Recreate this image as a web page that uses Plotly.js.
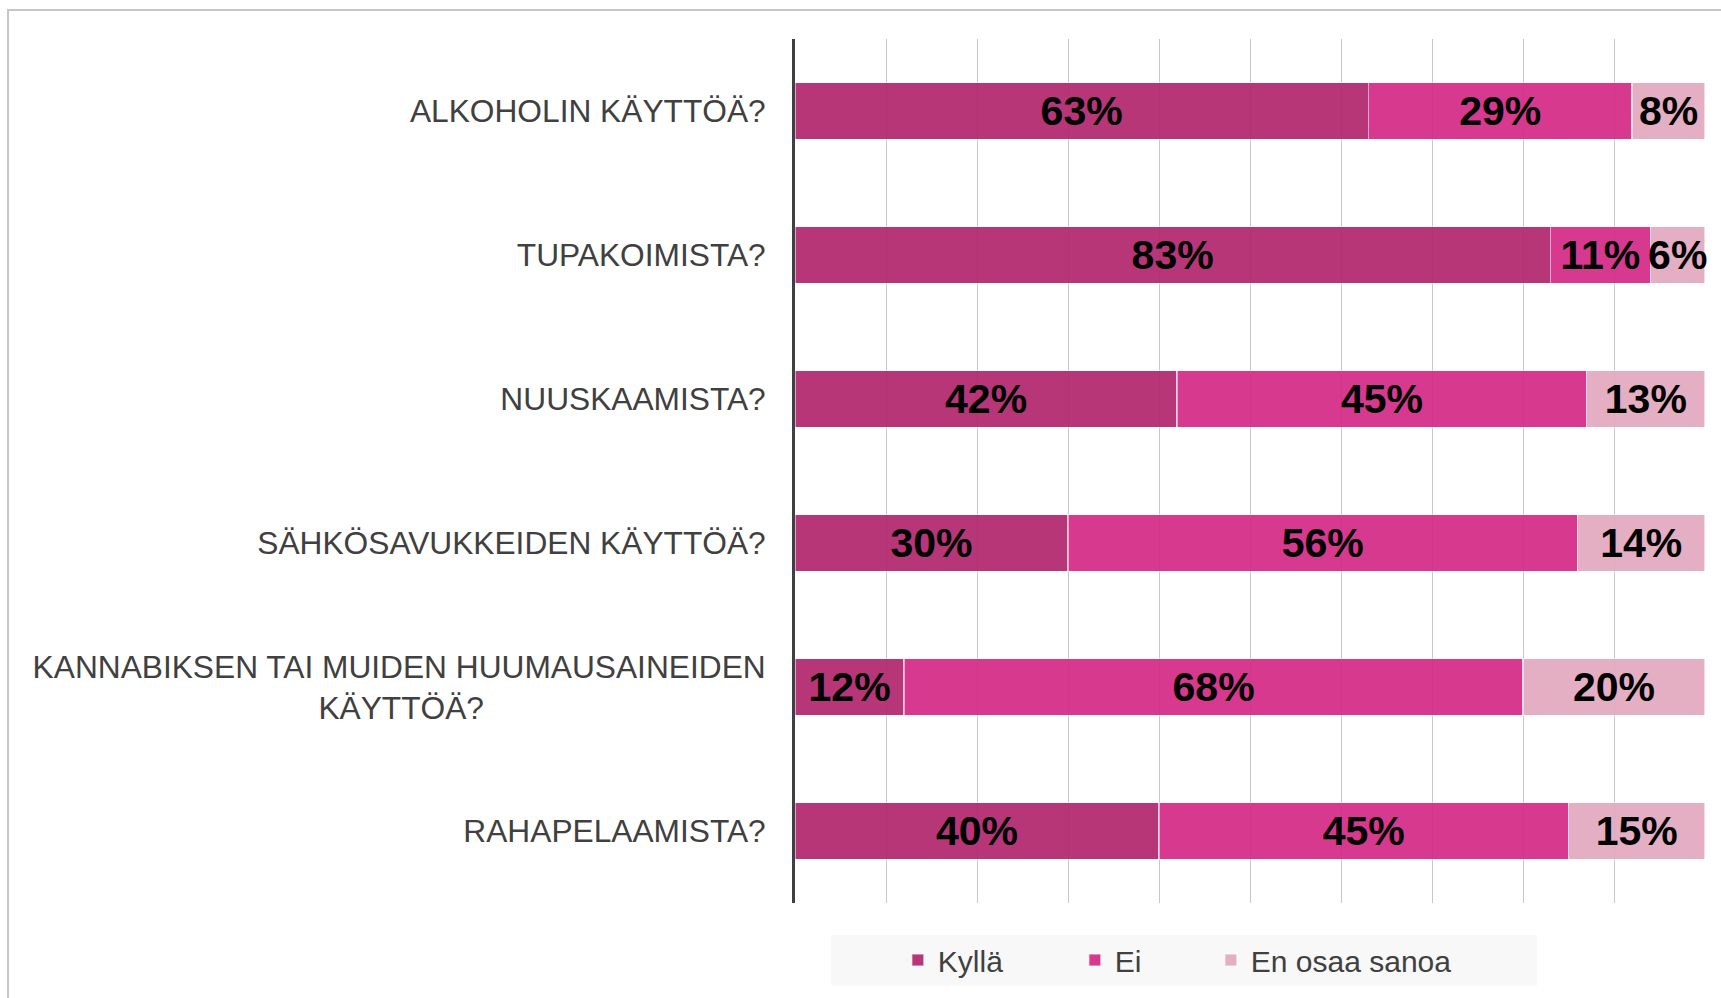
<!DOCTYPE html>
<html>
<head>
<meta charset="utf-8">
<script src="https://cdn.plot.ly/plotly-3.0.1.min.js"></script>
<style>html,body{margin:0;padding:0;background:#fff;}#chart{width:1721px;height:998px;}</style>
</head>
<body>
<div id="chart"></div>
<script>
var NB = '\u00A0';
var categories = [
  'ALKOHOLIN KÄYTTÖÄ?',
  'TUPAKOIMISTA?',
  'NUUSKAAMISTA?',
  'SÄHKÖSAVUKKEIDEN KÄYTTÖÄ?',
  'KANNABIKSEN TAI MUIDEN HUUMAUSAINEIDEN<br>KÄYTTÖÄ?' + NB.repeat(32),
  'RAHAPELAAMISTA?'
];
var seriesNames = ['Kyllä', 'Ei', 'En osaa sanoa'];
var kylla = [63, 83, 42, 30, 12, 40];
var ei = [29, 11, 45, 56, 68, 45];
var enOsaa = [8, 6, 13, 14, 20, 15];
var colors = ['rgba(176,39,110,0.93)', 'rgba(211,42,132,0.93)', 'rgba(226,168,190,0.93)'];
var legendWidths = [132, 91, 200];

var values = [kylla, ei, enOsaa];
var traces = values.map(function (v, i) {
  return {
    type: 'bar',
    orientation: 'h',
    name: seriesNames[i],
    x: v,
    y: categories,
    text: v.map(function (d) { return d + '%'; }),
    textposition: 'inside',
    insidetextanchor: 'middle',
    textangle: 0,
    constraintext: 'none',
    cliponaxis: false,
    textfont: { family: 'Liberation Sans, Arial, sans-serif', size: 41, color: '#000000', weight: 'bold' },
    marker: { color: colors[i], line: { color: 'rgba(255,255,255,0.55)', width: 1.5 } },
    legendwidth: legendWidths[i],
    hoverinfo: 'skip'
  };
});

var layout = {
  width: 1721,
  height: 998,
  margin: { l: 795, r: 16, t: 39, b: 95, pad: 0 },
  paper_bgcolor: '#ffffff',
  plot_bgcolor: '#ffffff',
  barmode: 'stack',
  bargap: 0.605,
  font: { family: 'Liberation Sans, Arial, sans-serif', color: '#404040' },
  xaxis: {
    range: [0, 100],
    dtick: 10,
    tick0: 0,
    showgrid: true,
    gridcolor: '#c8c8c8',
    gridwidth: 1,
    zeroline: false,
    showticklabels: false,
    showline: false,
    fixedrange: true
  },
  yaxis: {
    autorange: 'reversed',
    showline: true,
    linecolor: '#404040',
    linewidth: 3,
    showgrid: false,
    zeroline: false,
    ticks: '',
    ticklabelstandoff: 20,
    tickfont: { family: 'Liberation Sans, Arial, sans-serif', size: 31.7, color: '#404040' },
    fixedrange: true
  },
  showlegend: true,
  legend: {
    orientation: 'h',
    x: 0.113,
    xanchor: 'left',
    y: -0.066,
    yanchor: 'middle',
    bgcolor: 'rgba(0,0,0,0)',
    font: { family: 'Liberation Sans, Arial, sans-serif', size: 30, color: '#404040' },
    traceorder: 'normal'
  },
  shapes: [
    { type: 'rect', xref: 'paper', yref: 'paper', x0: -0.8648, x1: 1.1, y0: 1.0335, y1: -0.15,
      line: { color: '#c6c6c6', width: 2 }, fillcolor: 'rgba(0,0,0,0)', layer: 'below' },
    { type: 'rect', xref: 'paper', yref: 'paper', x0: 0.0396, x1: 0.8154, y0: -0.037, y1: -0.0956,
      line: { width: 0 }, fillcolor: '#f8f8f8', layer: 'below' }
  ]
};

Plotly.newPlot('chart', traces, layout, { displayModeBar: false, staticPlot: true });
</script>
</body>
</html>
